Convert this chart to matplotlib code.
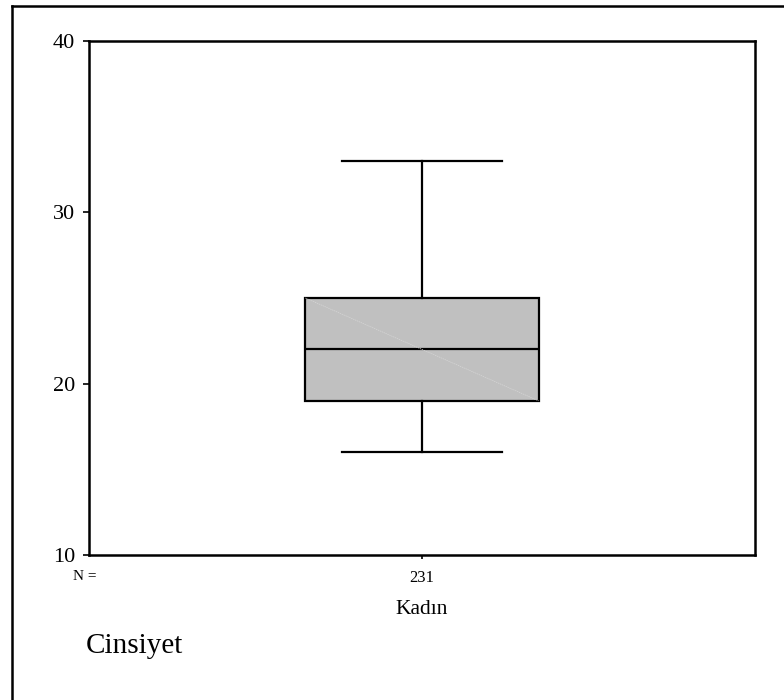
import matplotlib
matplotlib.use("Agg")
import matplotlib.pyplot as plt
from matplotlib.lines import Line2D

# box summary for the one group
group = "Kadın"
n_cases = 231
whisker_low = 16
q1 = 19
median = 22
q3 = 25
whisker_high = 33
y_ticks = [10, 20, 30, 40]

plt.rcParams["font.family"] = ["Liberation Serif", "DejaVu Serif"]

fig = plt.figure(figsize=(7.84, 7.0), dpi=100)
ax = fig.add_axes([0.1135, 0.2071, 0.8495, 0.7343])

stats = [{
    "med": median, "q1": q1, "q3": q3,
    "whislo": whisker_low, "whishi": whisker_high,
    "fliers": [], "label": str(n_cases),
}]
ax.bxp(stats, positions=[1], widths=0.35, patch_artist=True,
       showfliers=False,
       boxprops=dict(facecolor="#c0c0c0", edgecolor="black", linewidth=1.6),
       medianprops=dict(color="black", linewidth=1.6),
       whiskerprops=dict(color="black", linewidth=1.6),
       capprops=dict(color="black", linewidth=1.6),
       capwidths=0.24)

# faint diagonal across the shaded box
ax.plot([1 - 0.175, 1 + 0.175], [q3, q1], color="#d6d6d6", lw=0.5,
        ls=(0, (2, 1)), zorder=3)

ax.set_xlim(0.5, 1.5)
ax.set_ylim(10, 40)
ax.set_yticks(y_ticks)
ax.set_yticklabels([str(t) for t in y_ticks], fontsize=16)
ax.set_xticks([1])
ax.set_xticklabels([str(n_cases)], fontsize=12)
ax.tick_params(axis="y", direction="out", length=4, width=1.2, pad=6)
ax.tick_params(axis="x", direction="out", length=3, width=1.2, pad=8)
for s in ax.spines.values():
    s.set_linewidth(1.8)

ax.set_xlabel(group, fontsize=15.5, labelpad=10)
fig.text(0.093, 0.177, "N =", fontsize=11, ha="left", va="center")
fig.text(0.109, 0.077, "Cinsiyet", fontsize=21, ha="left", va="center")

# outer frame around the plot area
x0, y0 = 12 / 784, 1 - 6 / 700
fig.add_artist(Line2D([x0, x0], [y0, -0.01], color="black", lw=1.8,
                      transform=fig.transFigure))
fig.add_artist(Line2D([x0, 1.01], [y0, y0], color="black", lw=1.8,
                      transform=fig.transFigure))

fig.savefig("out.png", dpi=100)
